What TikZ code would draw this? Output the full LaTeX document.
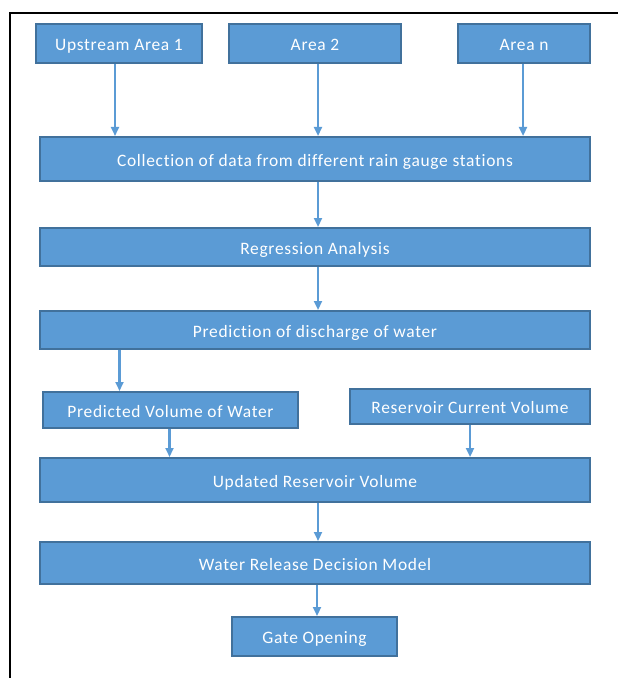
\documentclass[tikz,border=0pt]{standalone}
\usepackage{fontspec}
\setmainfont{Carlito}[LetterSpace=4,Ligatures=NoCommon]
\usepackage{tikz}
\usetikzlibrary{arrows.meta,positioning,calc}
\definecolor{flowfill}{RGB}{91,155,213}
\definecolor{flowedge}{RGB}{65,113,156}

\begin{document}
\begin{tikzpicture}[
    x=1bp, y=-1bp,
    box/.style={rectangle, draw=flowedge, line width=2bp, fill=flowfill, text=white, font=\fontsize{17.5}{20}\selectfont, inner sep=0pt, text height=15bp, text depth=1bp},
    wide/.style={box, minimum width=550bp},
    arrow/.style={-{Triangle[width=8bp,length=9bp]}, draw=flowfill, line width=2.2bp}
]
    % Frame
    \useasboundingbox (0,0) rectangle (618,678);
    \draw[line width=2.2bp] (10,678) -- (10,13) -- (618,13);

    % Upstream areas
    \node[box, minimum width=166bp, minimum height=39bp] (up1) at (119,43.5) {Upstream Area 1};
    \node[box, minimum width=172bp, minimum height=39bp] (area2) at (315,43.5) {Area 2};
    \node[box, minimum width=132bp, minimum height=39bp] (arean) at (524,43.5) {Area n};

    % Main steps
    \node[wide, minimum height=44bp] (collect) at (315,159) {Collection of data from different rain gauge stations};
    \node[wide, minimum height=38bp] (regress) at (315,247) {Regression Analysis};
    \node[wide, minimum height=38bp] (predict) at (315,330) {Prediction of discharge of water};

    % Volumes
    \node[box, minimum width=255bp, minimum height=36bp] (predvol) at (170.5,410) {Predicted Volume of Water};
    \node[box, minimum width=240bp, minimum height=35bp] (resvol) at (470,406.5) {Reservoir Current Volume};

    \node[wide, minimum height=44bp] (updated) at (315,480) {Updated Reservoir Volume};
    \node[wide, minimum height=42bp] (decide) at (315,563) {Water Release Decision Model};
    \node[box, minimum width=165bp, minimum height=39bp] (gate) at (314.5,636.5) {Gate Opening};

    % Arrows
    \draw[arrow] ([xshift=-4bp]up1.south) -- ([xshift=-4bp]up1.south |- collect.north);
    \draw[arrow] ([xshift=3bp]area2.south) -- ([xshift=3bp]area2.south |- collect.north);
    \draw[arrow] ([xshift=-1bp]arean.south) -- ([xshift=-1bp]arean.south |- collect.north);
    \draw[arrow] ([xshift=3bp]collect.south) -- ([xshift=3bp]regress.north);
    \draw[arrow] ([xshift=3bp]regress.south) -- ([xshift=3bp]predict.north);
    \draw[arrow] ([xshift=-51bp]predvol.north |- predict.south) -- ([xshift=-51bp]predvol.north);
    \draw[arrow] ([xshift=-1bp]predvol.south) -- ([xshift=-1bp]predvol.south |- updated.north);
    \draw[arrow] (resvol.south) -- (resvol.south |- updated.north);
    \draw[arrow] ([xshift=3bp]updated.south) -- ([xshift=3bp]decide.north);
    \draw[arrow] ([xshift=2bp]decide.south) -- ([xshift=2.5bp]gate.north);
\end{tikzpicture}
\end{document}
